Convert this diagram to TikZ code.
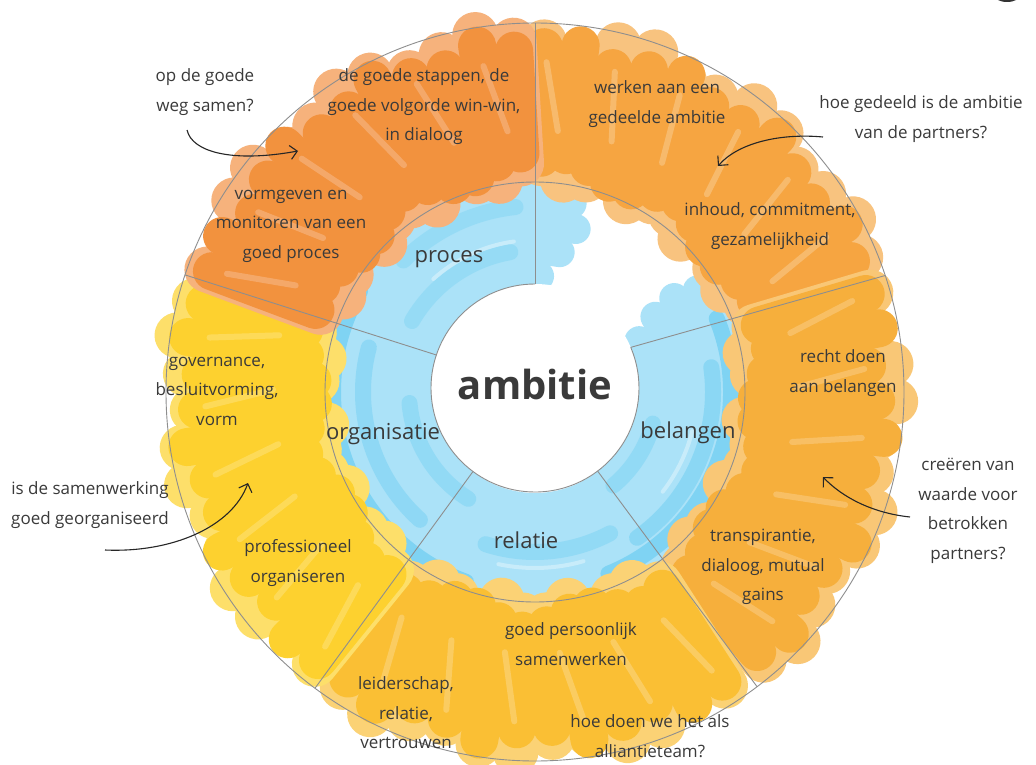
\documentclass[tikz,border=0pt]{standalone}
\usepackage{fontspec}
\setmainfont{Open Sans}
\usetikzlibrary{arrows.meta,calc}
\definecolor{txt}{HTML}{3A3A3A}
\definecolor{gline}{HTML}{8E8E8E}
\definecolor{tlMain}{HTML}{F2923E}
\definecolor{tlLight}{HTML}{F6B27C}
\definecolor{trMain}{HTML}{F6A541}
\definecolor{trLight}{HTML}{F8C37F}
\definecolor{rMain}{HTML}{F6AF3C}
\definecolor{rLight}{HTML}{F9C776}
\definecolor{bMain}{HTML}{FABF34}
\definecolor{bLight}{HTML}{FBD275}
\definecolor{lMain}{HTML}{FDD12F}
\definecolor{lLight}{HTML}{FDDF6A}
\definecolor{blueBase}{HTML}{ABE2F8}
\definecolor{blueDeep}{HTML}{5BC8F0}
\tikzset{
 lbl/.style={text=txt, font=\fontsize{17}{29.5}\selectfont, align=center, inner sep=0pt},
 seg/.style={text=txt, font=\fontsize{22}{26}\selectfont, inner sep=0pt},
 gl/.style={draw=gline, line width=0.9pt},
 note/.style={draw=black!85, line width=1.1pt, -{Straight Barb[length=7pt,width=14pt]}},
}
\newcommand\mysector[4]{%
 \foreach \k in {0,...,15}{%
  \pgfmathsetmacro\aa{#1+3.5+6*\k}%
  \pgfmathtruncatemacro\ok{\aa<#2-1}%
  \ifnum\ok=1
   \pgfmathsetmacro\ro{352+10*sin(\k*97)}%
   \pgfmathsetmacro\ri{220+9*cos(\k*131)}%
   \draw[#4, line width=46pt, line cap=round] (\aa:\ri) -- (\aa:\ro);
  \fi}%
 \foreach \k in {0,...,15}{%
  \pgfmathsetmacro\aa{#1+3.5+6*\k}%
  \pgfmathtruncatemacro\ok{\aa<#2-1}%
  \ifnum\ok=1
   \pgfmathsetmacro\ro{342+10*sin(\k*113)}%
   \pgfmathsetmacro\ri{230+9*cos(\k*71)}%
   \draw[#3, line width=38pt, line cap=round] (\aa:\ri) -- (\aa:\ro);
  \fi}%
 \foreach \k in {0,...,7}{%
  \pgfmathsetmacro\aa{#1+6+12*\k}%
  \pgfmathtruncatemacro\ok{\aa<#2-4}%
  \ifnum\ok=1
   \draw[#4, opacity=0.7, line width=6pt, line cap=round] (\aa:262) -- ({\aa+3}:330);
  \fi}%
}
\begin{document}
\begin{tikzpicture}[x=1pt,y=-1pt]
\clip (0,0) rectangle (1036,765);
\fill[white] (0,0) rectangle (1036,765);
\begin{scope}[shift={(535,392)}, yscale=-1]
 % blue ring
 \foreach \r/\s/\e in {116/88/386, 142/80/392, 168/76/394, 192/79/392, 206/84/388}
  \draw[blueBase, line width=30pt, line cap=round] (\s:\r) arc[start angle=\s, end angle=\e, radius=\r];
 \foreach \r/\s/\e/\o in {202/150/250/0.55, 196/292/382/0.55, 172/165/228/0.35, 178/305/368/0.4, 142/100/150/0.25, 126/185/238/0.3, 160/252/298/0.3, 122/310/345/0.3, 186/96/135/0.25}
  \draw[blueDeep, opacity=\o, line width=16pt, line cap=round] (\s:\r) arc[start angle=\s, end angle=\e, radius=\r];
 \foreach \r/\s/\e in {152/98/132, 176/258/286, 162/322/346}
  \draw[white, opacity=0.35, line width=4pt, line cap=round] (\s:\r) arc[start angle=\s, end angle=\e, radius=\r];
 \fill[white] (0,4) circle (104);
 % outer sectors
 \mysector{19}{90}{trMain}{trLight}
 \mysector{-53}{19}{rMain}{rLight}
 \mysector{233.4}{307}{bMain}{bLight}
 \mysector{161.5}{233.4}{lMain}{lLight}
 \mysector{90}{161.5}{tlMain}{tlLight}
 % grey lines
 \draw[gl] (0,0) circle (369);
 \draw[gl] (0,0) circle (210);
 \draw[gl] ($(0,4)+(90:104)$) arc[start angle=90, end angle=383, radius=104];
 \draw[gl] ($(0,4)+(90:104)$) -- (90:369);
 \draw[gl] ($(0,4)+(161.5:104)$) -- (161.5:369);
 \draw[gl] ($(0,4)+(233.4:104)$) -- (233.4:369);
 \draw[gl] ($(0,4)+(307:104)$) -- (307:369);
 \draw[gl] ($(0,4)+(23:104)$) -- (18.4:369);
\end{scope}
% labels
\node[lbl] (t1) at (205,92) {op de goede\\weg samen?};
\node[lbl] (t2) at (424,107) {de goede stappen, de\\goede volgorde win-win,\\in dialoog};
\node[lbl] (t3) at (657,104) {werken aan een\\gedeelde ambitie};
\node[lbl] (t4) at (921,119) {hoe gedeeld is de ambitie\\van de partners?};
\node[lbl] (t5) at (291,226) {vormgeven en\\monitoren van een\\goed proces};
\node[lbl] (t6) at (770,226) {inhoud, commitment,\\gezamelijkheid};
\node[seg] (s1) at (449,259) {proces};
\node[text=txt, font=\fontsize{40}{44}\selectfont\bfseries, inner sep=0pt] (amb) at (535,384) {ambitie};
\node[lbl] (t7) at (217,391) {governance,\\besluitvorming,\\vorm};
\node[seg] (s2) at (383,434) {organisatie};
\node[seg] (s3) at (688,433) {belangen};
\node[lbl] (t8) at (843,373) {recht doen\\aan belangen};
\node[lbl] (t9) at (968,511) {creëren van\\waarde voor\\betrokken\\partners?};
\node[lbl] (t10) at (90,505) {is de samenwerking\\goed georganiseerd};
\node[lbl] (t11) at (298,563) {professioneel\\organiseren};
\node[lbl] (t12) at (763,567) {transpirantie,\\dialoog, mutual\\gains};
\node[seg] (s4) at (526,540) {relatie};
\node[lbl] (t13) at (571,644) {goed persoonlijk\\samenwerken};
\node[lbl] (t14) at (406,713) {leiderschap,\\relatie,\\vertrouwen};
\node[lbl] (t15) at (650,736) {hoe doen we het als\\alliantieteam?};
% arrows
\coordinate (a1s) at (187,130); \coordinate (a1e) at (298,151);
\draw[note] (a1s) .. controls (192,152) and (232,163) .. (a1e);
\coordinate (a2s) at (823,137); \coordinate (a2e) at (718,166);
\draw[note] (a2s) .. controls (780,133) and (738,143) .. (a2e);
\coordinate (a3s) at (910,517); \coordinate (a3e) at (823,477);
\draw[note] (a3s) .. controls (872,513) and (842,497) .. (a3e);
\coordinate (a4s) at (105,550); \coordinate (a4e) at (248,483);
\draw[note] (a4s) .. controls (172,553) and (232,527) .. (a4e);
% corner shape
\fill[black!80] (1007,-6) ellipse (14 and 8);
\end{tikzpicture}
\end{document}
